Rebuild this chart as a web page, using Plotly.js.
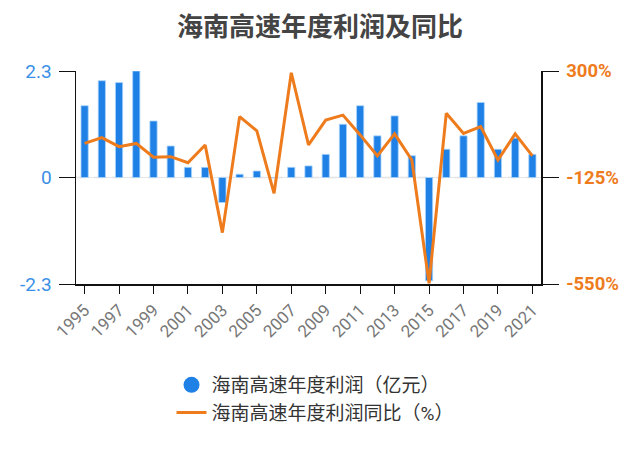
<!DOCTYPE html>
<html>
<head>
<meta charset="utf-8">
<script src="https://cdn.plot.ly/plotly-3.0.1.min.js"></script>
<style>
  html, body { margin: 0; padding: 0; background: #fff; }
  #canvas { width: 640px; height: 450px; }
</style>
</head>
<body>
<div id="canvas"></div>
<script>
// data
const years = [1995, 1996, 1997, 1998, 1999, 2000, 2001, 2002, 2003, 2004, 2005, 2006, 2007, 2008,
    2009, 2010, 2011, 2012, 2013, 2014, 2015, 2016, 2017, 2018, 2019, 2020, 2021];
const profit = [1.55, 2.09, 2.05, 2.30, 1.22, 0.68, 0.22, 0.22, -0.54, 0.07, 0.14, -0.01, 0.22, 0.25,
    0.50, 1.15, 1.55, 0.90, 1.33, 0.47, -2.23, 0.61, 0.90, 1.62, 0.61, 0.85, 0.50];
const growth = [11, 34, -2, 11, -44, -42, -66, 5, -345, 118, 61, -188, 293, 5,
    104, 124, 45, -39, 49, -55, -547, 131, 51, 78, -55, 49, -39];
const leftTicks = [-2.3, 0, 2.3];
const rightTicks = [-550, -125, 300];
const yearTicks = years.filter((y) => (y - 1995) % 2 === 0);

const PROFIT_NAME = "海南高速年度利润（亿元）";
const GROWTH_NAME = "海南高速年度利润同比（%）";

const BLUE = "#1f80e6";
const ORANGE = "#ee7b1c";
const FONT = "Roboto, 'Noto Sans CJK SC', sans-serif";

var getPlotData = () => [
    {
        type: "bar",
        x: years,
        y: profit,
        yaxis: "y",
        width: 0.42,
        marker: { color: BLUE, line: { color: "#a9d4fb", width: 0.8 } },
        showlegend: false,
        name: PROFIT_NAME,
    },
    // legend entry with a round marker, like the reference
    {
        type: "scatter",
        mode: "markers",
        x: [null],
        y: [null],
        marker: { color: BLUE, size: 16, symbol: "circle" },
        name: PROFIT_NAME,
    },
    {
        type: "scatter",
        mode: "lines",
        x: years,
        y: growth,
        yaxis: "y2",
        line: { color: ORANGE, width: 3 },
        name: GROWTH_NAME,
    },
];

var getPlotLayout = () => ({
    width: 640,
    height: 450,
    paper_bgcolor: "#fff",
    plot_bgcolor: "#fff",
    font: { family: FONT, size: 13, color: "#555" },
    margin: { l: 76, r: 99, t: 71, b: 166 },
    title: {
        text: "海南高速年度利润及同比",
        x: 0.5,
        xanchor: "center",
        y: 0.94,
        yanchor: "middle",
        font: { family: FONT, size: 26, color: "#444", weight: "bold" },
    },
    xaxis: {
        range: [1994.5, 2021.5],
        tickvals: yearTicks,
        ticktext: yearTicks.map(String),
        tickangle: -45,
        ticks: "outside",
        ticklen: 8,
        tickcolor: "#111",
        showline: true,
        linecolor: "#111",
        linewidth: 1.5,
        showgrid: false,
        zeroline: false,
        tickfont: { family: FONT, size: 17, color: "#777" },
    },
    yaxis: {
        range: [-2.3, 2.3],
        tickvals: leftTicks,
        ticktext: leftTicks.map(String),
        ticks: "outside",
        ticklen: 16,
        tickcolor: "#111",
        ticklabelstandoff: 3,
        showline: true,
        linecolor: "#111",
        linewidth: 1.5,
        showgrid: true,
        gridcolor: "#e6e6e6",
        zeroline: false,
        tickfont: { family: FONT, size: 19, color: "#3a8fe6" },
    },
    yaxis2: {
        overlaying: "y",
        side: "right",
        range: [-550, 300],
        tickvals: rightTicks,
        ticktext: rightTicks.map((v) => v + "%"),
        ticks: "outside",
        ticklen: 16,
        tickcolor: "#111",
        ticklabelstandoff: 4,
        showline: true,
        linecolor: "#111",
        linewidth: 1.5,
        showgrid: false,
        zeroline: false,
        tickfont: { family: FONT, size: 18.5, color: ORANGE, weight: "bold" },
    },
    shapes: [
        {
            type: "line",
            xref: "paper",
            yref: "y",
            x0: 0,
            x1: 1,
            y0: 0,
            y1: 0,
            layer: "below",
            line: { color: "#dcdcdc", width: 1.5, dash: "dash" },
        },
    ],
    legend: {
        orientation: "v",
        x: 0.514,
        xanchor: "center",
        y: -0.385,
        yanchor: "top",
        font: { family: FONT, size: 19, color: "#333" },
        itemwidth: 30,
        tracegroupgap: 0,
    },
    showlegend: true,
});

Plotly.newPlot("canvas", getPlotData(), getPlotLayout(), { displayModeBar: false, staticPlot: true });
</script>
</body>
</html>
